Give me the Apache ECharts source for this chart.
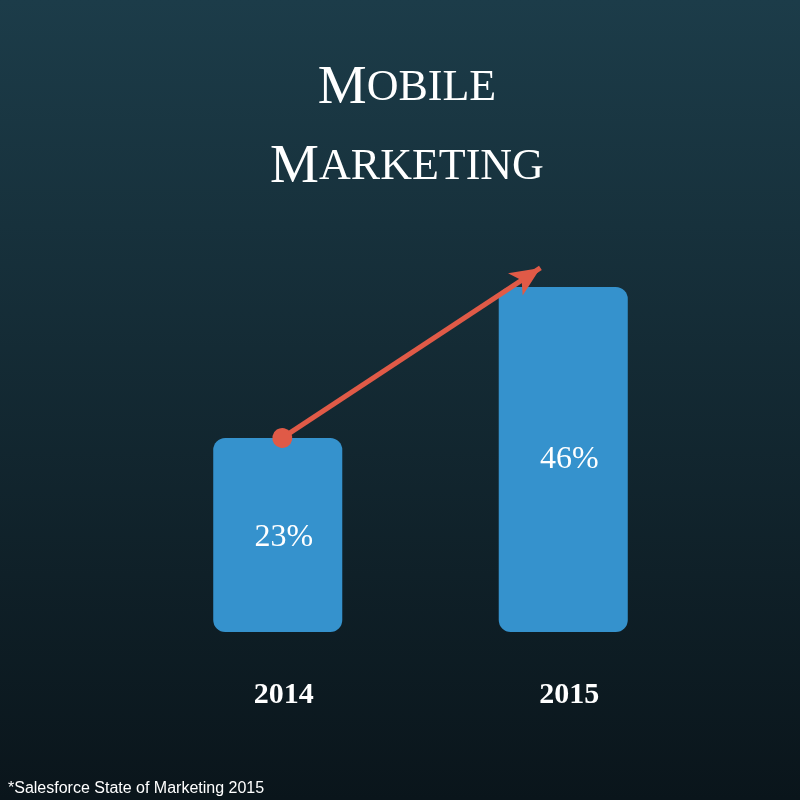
<!DOCTYPE html>
<html>
<head>
<meta charset="utf-8">
<script src="https://cdn.jsdelivr.net/npm/echarts@6/dist/echarts.min.js"></script>
<style>
  html, body { margin: 0; padding: 0; }
  #chart { width: 800px; height: 800px; }
</style>
</head>
<body>
<div id="chart"></div>
<script>
const years = ['2014', '2015'];
const shares = [23, 46];
const arrowFrom = [0.516, 23];
const arrowTo = [1.42, 48.9];
const yMin = -6.55;

const chart = echarts.init(document.getElementById('chart'));
const serif = '"Liberation Serif", "DejaVu Serif", serif';

// bars drawn from the bottom of the axis, not from zero
function renderBar(params, api) {
  const x = api.value(0);
  const v = api.value(1);
  const top = api.coord([x, v]);
  const bottom = api.coord([x, yMin]);
  const w = api.size([1, 0])[0] * 0.452;
  return {
    type: 'rect',
    shape: { x: top[0] - w / 2, y: top[1], width: w, height: bottom[1] - top[1], r: 12 },
    style: { fill: '#3592cd' },
    textContent: {
      style: {
        text: v + '%',
        fill: '#fff',
        fontFamily: serif,
        fontSize: 32
      }
    },
    textConfig: { position: 'inside', offset: [6, x === 0 ? 3 : 0] }
  };
}

const option = {
  backgroundColor: new echarts.graphic.LinearGradient(0, 0, 0, 1, [
    { offset: 0, color: '#1c3c49' },
    { offset: 1, color: '#0a151b' }
  ]),
  title: {
    left: 402,
    top: 44,
    textAlign: 'center',
    text: '{b|M}{s|OBILE}\n{b|M}{s|ARKETING}',
    textStyle: {
      fontWeight: 'normal',
      rich: {
        b: { fontFamily: serif, fontSize: 55, fontWeight: 'normal', color: '#fff', lineHeight: 79 },
        s: { fontFamily: serif, fontSize: 44, fontWeight: 'normal', color: '#fff', lineHeight: 79 }
      }
    }
  },
  graphic: [{
    type: 'text',
    left: 8,
    top: 781,
    style: {
      text: '*Salesforce State of Marketing 2015',
      fill: '#fff',
      font: '16px "Liberation Sans", Arial, sans-serif'
    }
  }],
  grid: { left: 135, right: 94, top: 195, bottom: 168, outerBoundsMode: 'none', containLabel: false },
  xAxis: [{
    type: 'category',
    data: years,
    axisLine: { show: false },
    axisTick: { show: false },
    axisLabel: {
      margin: 48,
      padding: [0, 0, 0, 12],
      fontFamily: serif,
      fontWeight: 'bold',
      fontSize: 30,
      color: '#fff'
    }
  }, {
    type: 'value',
    min: 0,
    max: 2,
    show: false
  }],
  yAxis: {
    type: 'value',
    min: yMin,
    max: 60,
    show: false
  },
  series: [{
    type: 'custom',
    renderItem: renderBar,
    encode: { x: 0, y: 1 },
    data: shares.map((v, i) => [i, v]),
    silent: true
  }, {
    type: 'line',
    xAxisIndex: 1,
    data: [],
    markLine: {
      silent: true,
      symbol: ['circle', 'arrow'],
      symbolSize: [20, 30],
      label: { show: false },
      lineStyle: { color: '#e05a47', width: 5, type: 'solid' },
      data: [[{ coord: arrowFrom }, { coord: arrowTo }]]
    }
  }]
};

chart.setOption(option);
</script>
</body>
</html>
